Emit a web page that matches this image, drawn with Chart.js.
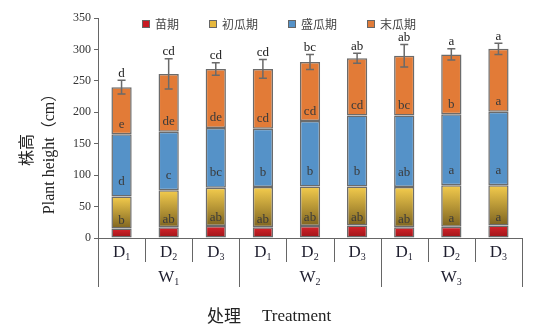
<!DOCTYPE html>
<html>
<head>
<meta charset="utf-8">
<script src="https://cdn.jsdelivr.net/npm/chart.js@4.4.0/dist/chart.umd.min.js"></script>
<style>
  html, body { margin: 0; padding: 0; background: #fff; }
  #wrap { width: 543px; height: 329px; }
</style>
</head>
<body>
<div id="wrap"><canvas id="chart" width="543" height="329"></canvas></div>
<script>
// 数据
const categories = ['D1', 'D2', 'D3', 'D1', 'D2', 'D3', 'D1', 'D2', 'D3'];
const groups = ['W1', 'W2', 'W3'];
const stageNames = ['苗期', '初瓜期', '盛瓜期', '末瓜期'];

const seedling = [15, 17, 19, 17, 19, 20, 17, 18, 20];
const early    = [51, 59, 61, 64, 63, 62, 64, 66, 64];
const peak     = [99, 93, 95, 93, 104, 113, 114, 113, 117];
const late     = [75, 92, 94, 95, 94, 91, 95, 95, 100];
const errors   = [11, 24, 10, 15, 12, 8, 18, 9, 9];

const earlyLetters = ['b', 'ab', 'ab', 'ab', 'ab', 'ab', 'ab', 'a', 'a'];
const peakLetters  = ['d', 'c', 'bc', 'b', 'b', 'b', 'ab', 'a', 'a'];
const lateLetters  = ['e', 'de', 'de', 'cd', 'cd', 'cd', 'bc', 'b', 'a'];
const totalLetters = ['d', 'cd', 'cd', 'cd', 'bc', 'ab', 'ab', 'a', 'a'];

const SERIF = '"Liberation Serif", "Times New Roman", serif';
const CJK = '"Noto Sans CJK SC", sans-serif';

// 渐变填充
function gradientFill(topColor, bottomColor, lowerArr, ownArr) {
    return function(ctx) {
        const chart = ctx.chart;
        if (!chart.chartArea || ctx.dataIndex === undefined) return topColor;
        const y = chart.scales.y;
        const i = ctx.dataIndex;
        const base = lowerArr ? lowerArr[i] : 0;
        const y0 = y.getPixelForValue(base);
        const y1 = y.getPixelForValue(base + ownArr[i]);
        const g = chart.ctx.createLinearGradient(0, y1, 0, y0);
        g.addColorStop(0, topColor);
        g.addColorStop(1, bottomColor);
        return g;
    };
}

// 自定义绘制：图例、误差线、字母、坐标轴标签
const decorPlugin = {
    id: 'decor',
    afterDatasetsDraw(chart) {
        const ctx = chart.ctx;
        const x = chart.scales.x;
        const y = chart.scales.y;
        const area = chart.chartArea;
        ctx.save();

        // 误差线
        ctx.strokeStyle = '#6a6a6a';
        ctx.lineWidth = 1.5;
        for (let i = 0; i < categories.length; i++) {
            const total = seedling[i] + early[i] + peak[i] + late[i];
            const cx = x.getPixelForValue(i);
            const yt = y.getPixelForValue(total + errors[i]);
            const yb = y.getPixelForValue(total - errors[i]);
            ctx.beginPath();
            ctx.moveTo(cx, yt); ctx.lineTo(cx, yb);
            ctx.moveTo(cx - 4, yt); ctx.lineTo(cx + 4, yt);
            ctx.moveTo(cx - 4, yb); ctx.lineTo(cx + 4, yb);
            ctx.stroke();
        }

        // 显著性字母
        ctx.textAlign = 'center';
        ctx.textBaseline = 'middle';
        ctx.font = '13px ' + SERIF;
        for (let i = 0; i < categories.length; i++) {
            const cx = x.getPixelForValue(i);
            const s = seedling[i];
            const e = s + early[i];
            const p = e + peak[i];
            const t = p + late[i];
            ctx.fillStyle = '#3a3a3a';
            ctx.fillText(earlyLetters[i], cx, y.getPixelForValue(s) - 8);
            ctx.fillText(peakLetters[i], cx, y.getPixelForValue(e) - 15);
            ctx.fillText(lateLetters[i], cx, y.getPixelForValue(p) - 10);
            ctx.fillStyle = '#222';
            ctx.fillText(totalLetters[i], cx, y.getPixelForValue(t + errors[i]) - 7);
        }

        // 图例
        const colors = ['#c81a22', '#e6b83e', '#5592c8', '#e07b39'];
        ctx.font = '12px ' + CJK;
        ctx.textAlign = 'left';
        let lx = 142;
        const ly = 24;
        for (let k = 0; k < stageNames.length; k++) {
            ctx.fillStyle = colors[k];
            ctx.fillRect(lx, ly - 4, 8, 8);
            ctx.strokeStyle = '#666';
            ctx.lineWidth = 1;
            ctx.strokeRect(lx + 0.5, ly - 3.5, 7, 7);
            ctx.fillStyle = '#444';
            ctx.fillText(stageNames[k], lx + 13, ly);
            lx += 13 + ctx.measureText(stageNames[k]).width + 30;
        }

        // x 轴分隔线
        const step = (area.right - area.left) / categories.length;
        ctx.strokeStyle = '#666';
        ctx.lineWidth = 1;
        for (let k = 0; k <= categories.length; k++) {
            const px = Math.round(area.left + k * step) + 0.5;
            const len = (k % 3 === 0) ? 49 : 24;
            ctx.beginPath();
            ctx.moveTo(px, area.bottom);
            ctx.lineTo(px, area.bottom + len);
            ctx.stroke();
        }

        // x 轴标签（带下标）
        function subLabel(text, cx, cy, big, small) {
            const main = text.charAt(0);
            const sub = text.slice(1);
            ctx.font = big + 'px ' + SERIF;
            const w1 = ctx.measureText(main).width;
            ctx.font = small + 'px ' + SERIF;
            const w2 = ctx.measureText(sub).width;
            const start = cx - (w1 + w2) / 2;
            ctx.textAlign = 'left';
            ctx.textBaseline = 'alphabetic';
            ctx.fillStyle = '#1e1e2e';
            ctx.font = big + 'px ' + SERIF;
            ctx.fillText(main, start, cy);
            ctx.font = small + 'px ' + SERIF;
            ctx.fillText(sub, start + w1, cy + 3);
        }
        for (let i = 0; i < categories.length; i++) {
            subLabel(categories[i], x.getPixelForValue(i), 257, 17, 10);
        }
        for (let g = 0; g < groups.length; g++) {
            const cx = area.left + (g * 3 + 1.5) * step;
            subLabel(groups[g], cx, 282, 17, 10);
        }

        // 坐标轴标题
        ctx.fillStyle = '#222';
        ctx.textBaseline = 'middle';
        ctx.textAlign = 'left';
        ctx.font = '17px ' + CJK;
        ctx.fillText('处理', 207, 316);
        ctx.font = '17px ' + SERIF;
        ctx.fillText('Treatment', 262, 317);

        ctx.translate(0, 0);
        ctx.save();
        ctx.translate(26, 150);
        ctx.rotate(-Math.PI / 2);
        ctx.textAlign = 'center';
        ctx.font = '16px ' + CJK;
        ctx.fillText('株高', 0, 0);
        ctx.restore();
        ctx.save();
        ctx.translate(50, 150);
        ctx.rotate(-Math.PI / 2);
        ctx.textAlign = 'center';
        ctx.font = '16px ' + SERIF + ', ' + CJK;
        ctx.fillText('Plant height（cm）', 0, 0);
        ctx.restore();

        ctx.restore();
    }
};

const ctx = document.getElementById('chart').getContext('2d');
const chart = new Chart(ctx, {
    type: 'bar',
    data: {
        labels: categories,
        datasets: [
            {
                label: stageNames[0],
                data: seedling,
                backgroundColor: gradientFill('#d8232a', '#9a1418', null, seedling)
            },
            {
                label: stageNames[1],
                data: early,
                backgroundColor: gradientFill('#f4cc4d', '#7e6421', seedling, early)
            },
            {
                label: stageNames[2],
                data: peak,
                backgroundColor: '#5592c8'
            },
            {
                label: stageNames[3],
                data: late,
                backgroundColor: '#e27b37'
            }
        ].map(d => Object.assign(d, {
            borderColor: '#6b6b6b',
            borderWidth: 1.5,
            borderSkipped: false,
            barPercentage: 0.43,
            categoryPercentage: 1
        }))
    },
    options: {
        responsive: false,
        animation: false,
        layout: { padding: { left: 0, right: 21, top: 18, bottom: 91 } },
        plugins: {
            legend: { display: false },
            tooltip: { enabled: false }
        },
        scales: {
            x: {
                stacked: true,
                ticks: { display: false },
                grid: { display: false },
                border: { display: true, color: '#666', width: 1 },
                afterFit(scale) { scale.height = 0; }
            },
            y: {
                stacked: true,
                min: 0,
                max: 350,
                ticks: {
                    stepSize: 50,
                    padding: 3,
                    color: '#333',
                    font: { family: SERIF, size: 12 }
                },
                grid: { drawOnChartArea: false, drawTicks: true, tickLength: 4, color: '#666' },
                border: { display: true, color: '#666', width: 1 },
                afterFit(scale) { scale.width = 98; }
            }
        }
    },
    plugins: [decorPlugin]
});
</script>
</body>
</html>
